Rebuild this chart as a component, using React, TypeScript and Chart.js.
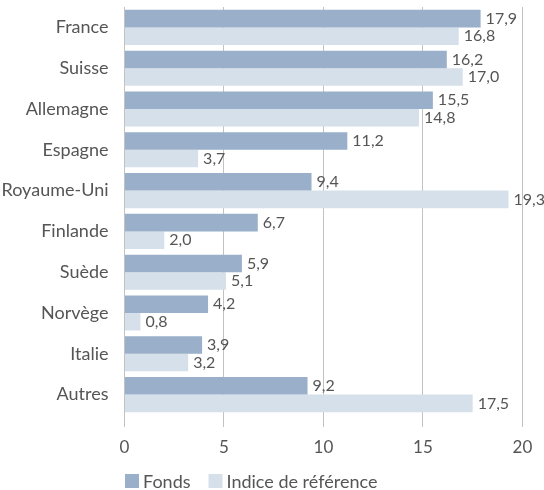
import React, { useEffect, useRef } from "react";
import { Chart, registerables } from "chart.js";

Chart.register(...registerables);

const categories = [
  "France",
  "Suisse",
  "Allemagne",
  "Espagne",
  "Royaume-Uni",
  "Finlande",
  "Suède",
  "Norvège",
  "Italie",
  "Autres",
];
const fondsValues = [17.9, 16.2, 15.5, 11.2, 9.4, 6.7, 5.9, 4.2, 3.9, 9.2];
const indiceValues = [16.8, 17.0, 14.8, 3.7, 19.3, 2.0, 5.1, 0.8, 3.2, 17.5];
const seriesNames = ["Fonds", "Indice de référence"];
const seriesColors = ["#9aafca", "#d6e0ea"];
const xTicks = [0, 5, 10, 15, 20];

const FONT = "Lato, 'Open Sans', sans-serif";
const TEXT = "#555555";

const valueLabels = {
  id: "valueLabels",
  afterDatasetsDraw(chart: any) {
    const ctx = chart.ctx;
    ctx.save();
    ctx.font = `16px ${FONT}`;
    ctx.fillStyle = TEXT;
    ctx.textAlign = "left";
    ctx.textBaseline = "middle";
    chart.data.datasets.forEach((ds: any, di: number) => {
      const meta = chart.getDatasetMeta(di);
      meta.data.forEach((bar: any, i: number) => {
        const v = ds.data[i] as number;
        const txt = v.toFixed(1).replace(".", ",");
        ctx.fillText(txt, bar.x + 5, bar.y);
      });
    });
    ctx.restore();
  },
};

const customLegend = {
  id: "customLegend",
  afterDraw(chart: any) {
    const ctx = chart.ctx;
    ctx.save();
    ctx.font = `18px ${FONT}`;
    ctx.textBaseline = "middle";
    ctx.textAlign = "left";
    const yc = 481;
    const box = 14;
    let x = chart.chartArea.left + 0.5;
    chart.data.datasets.forEach((ds: any) => {
      ctx.fillStyle = ds.backgroundColor;
      ctx.fillRect(x, yc - box / 2, box, box);
      x += box + 4;
      ctx.fillStyle = TEXT;
      ctx.fillText(ds.label, x, yc + 1);
      x += ctx.measureText(ds.label).width + 18;
    });
    ctx.restore();
  },
};

export default function App() {
  const ref = useRef<HTMLCanvasElement | null>(null);
  useEffect(() => {
    if (!ref.current) return;
    const chart = new Chart(ref.current, {
      type: "bar",
      data: {
        labels: categories,
        datasets: [
          {
            label: seriesNames[0],
            data: fondsValues,
            backgroundColor: seriesColors[0],
            categoryPercentage: 0.86,
            barPercentage: 1,
          },
          {
            label: seriesNames[1],
            data: indiceValues,
            backgroundColor: seriesColors[1],
            categoryPercentage: 0.86,
            barPercentage: 1,
          },
        ],
      },
      options: {
        indexAxis: "y",
        animation: false,
        responsive: true,
        maintainAspectRatio: false,
        layout: { padding: { top: 7, right: 21.6, left: 0, bottom: 22 } },
        scales: {
          x: {
            min: 0,
            max: 20,
            afterBuildTicks: (axis: any) => {
              axis.ticks = xTicks.map((v) => ({ value: v }));
            },
            grid: {
              color: "#c2c2c2",
              lineWidth: 1,
              drawTicks: true,
              tickLength: 12,
            },
            border: { display: false },
            ticks: {
              color: TEXT,
              font: { family: FONT, size: 17 },
              padding: 10.3,
            },
          },
          y: {
            afterFit: (axis: any) => {
              axis.width = 124.5;
              axis.paddingTop = 0;
              axis.paddingBottom = 0;
            },
            grid: { display: false },
            border: { display: false },
            ticks: {
              color: TEXT,
              font: { family: FONT, size: 18 },
              padding: 8,
            },
          },
        },
        plugins: {
          legend: { display: false },
          tooltip: { enabled: false },
        },
      },
      plugins: [valueLabels, customLegend],
    });
    return () => chart.destroy();
  }, []);
  return (
    <div
      style={{
        position: "fixed",
        left: 0,
        top: 0,
        width: 544,
        height: 490,
        background: "#fff",
      }}
    >
      <canvas ref={ref} />
    </div>
  );
}
